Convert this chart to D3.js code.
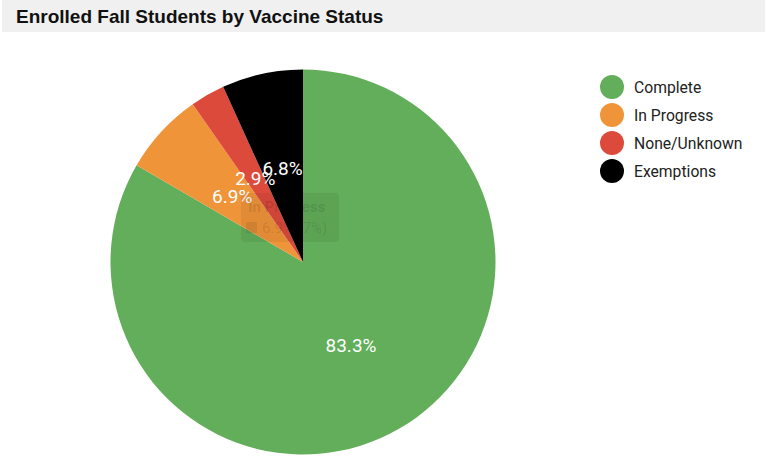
<!DOCTYPE html>
<html><head><meta charset="utf-8">
<script src="https://cdn.jsdelivr.net/npm/d3@7"></script>
<style>body{margin:0;background:#fff;}svg{display:block;}</style>
</head><body>
<svg id="c" width="768" height="471"></svg>
<script>
const title = "Enrolled Fall Students by Vaccine Status";
const categories = ["Complete", "In Progress", "None/Unknown", "Exemptions"];
const values = [83.3, 6.9, 2.9, 6.8];
const colors = ["#62ae5a", "#f0943a", "#dc4a3c", "#000000"];
const tooltipTitle = "In Progress";
const tooltipText = "6.9% (7%)";

const svg = d3.select("#c");
const font = "Roboto, Arial, sans-serif";

// title bar
svg.append("rect").attr("x", 2).attr("y", 0).attr("width", 763).attr("height", 32).attr("fill", "#f0f0f0");
svg.append("text").attr("x", 16).attr("y", 23).attr("font-family", "Arial, 'Liberation Sans', sans-serif")
  .attr("font-weight", "bold").attr("font-size", 19).attr("fill", "#111").text(title);

const cx = 303, cy = 262, r = 192.5;
const data = categories.map((c, i) => ({ cat: c, v: values[i], col: colors[i] }));
const pie = d3.pie().value(d => d.v).sort(null);
const arcs = pie(data);
const arc = d3.arc().innerRadius(0).outerRadius(r);
const labelArc = d3.arc().innerRadius(r * 0.5).outerRadius(r * 0.5);
const g = svg.append("g").attr("transform", `translate(${cx},${cy})`);
g.selectAll("path").data(arcs).join("path").attr("d", arc).attr("fill", d => d.data.col);

// faint tooltip (drawn before labels would hide them; reference shows it under the labels area)
const tt = svg.append("g").attr("transform", "translate(241,193)");
tt.append("rect").attr("width", 98).attr("height", 49).attr("rx", 4).attr("fill", "rgba(0,0,0,0.06)");
tt.append("text").attr("x", 7).attr("y", 19).attr("font-family", font).attr("font-weight", "bold")
  .attr("font-size", 15).attr("fill", "rgba(0,0,0,0.1)").text(tooltipTitle);
tt.append("rect").attr("x", 5).attr("y", 29).attr("width", 11).attr("height", 11).attr("fill", "rgba(0,0,0,0.08)");
tt.append("text").attr("x", 21).attr("y", 40).attr("font-family", font)
  .attr("font-size", 15).attr("fill", "rgba(0,0,0,0.1)").text(tooltipText);

g.selectAll("text.lbl").data(arcs).join("text").attr("class", "lbl")
  .attr("transform", d => `translate(${labelArc.centroid(d)})`)
  .attr("text-anchor", "middle").attr("dy", "0.35em")
  .attr("font-family", font).attr("font-size", 19).attr("fill", "#fff")
  .text(d => d.data.v.toFixed(1) + "%");

// legend
const lg = svg.append("g").attr("transform", "translate(612,87)");
const items = lg.selectAll("g").data(data).join("g").attr("transform", (d, i) => `translate(0,${i * 28})`);
items.append("circle").attr("r", 12).attr("fill", d => d.col);
items.append("text").attr("x", 22).attr("dy", "0.35em").attr("font-family", font)
  .attr("font-size", 15.7).attr("fill", "#222").text(d => d.cat);
</script>
</body></html>
